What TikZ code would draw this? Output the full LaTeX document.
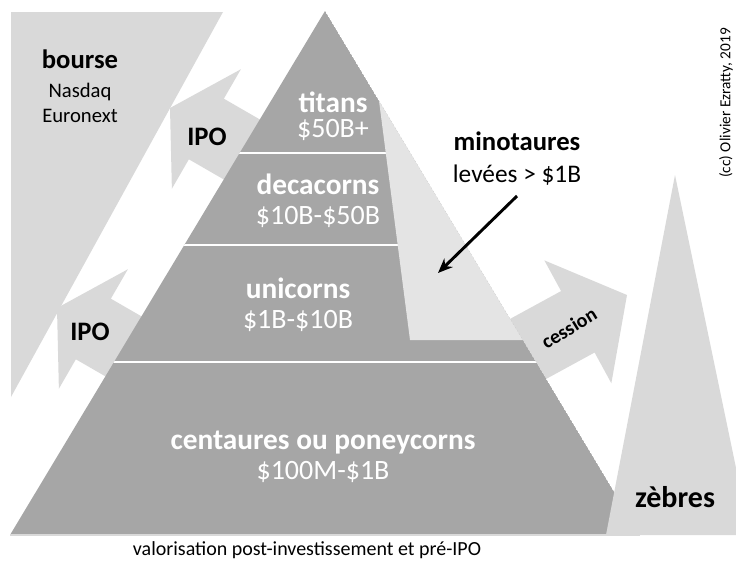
\documentclass[tikz,border=0pt]{standalone}
\usepackage{fontspec}
\setmainfont{Carlito}
\usepackage{xcolor}
\definecolor{pyramidGray}{HTML}{A6A6A6}
\definecolor{paleGray}{HTML}{D9D9D9}
\definecolor{minoGray}{HTML}{E4E4E4}
\usetikzlibrary{arrows.meta}
\tikzset{
    % light gray areas: bourse, block arrows, zebras
    pale area/.style={fill=paleGray},
    % names and values inside the pyramid
    tier name/.style={
        font=\bfseries\fontsize{22}{26}\selectfont,
        text=white, anchor=base, inner sep=0pt,
    },
    tier value/.style={
        font=\fontsize{21}{25}\selectfont,
        text=white, anchor=base, inner sep=0pt,
    },
    % black labels outside the pyramid
    side title/.style={
        font=\bfseries\fontsize{20}{24}\selectfont,
        anchor=base, inner sep=0pt,
    },
    side text/.style={
        font=\fontsize{15.5}{19}\selectfont,
        anchor=base, inner sep=0pt,
    },
    % separators between tiers
    tier line/.style={draw=white, line width=1.5pt},
    % arrow pointing at the minotaurs
    pointer/.style={
        -{Stealth[length=11pt, width=9pt]},
        line width=2.2pt,
    },
}

\begin{document}
\begin{tikzpicture}[x=0.75pt, y=-0.75pt]
    \useasboundingbox (0,0) rectangle (736,564);
    \clip (0,0) rectangle (736,564);

    % bourse
    \fill[pale area] (11,12) -- (223,12) -- (11,397) -- cycle;

    % block arrows (tip at origin, pointing left)
    \begin{scope}[shift={(170,108)}, rotate=-30]
        \fill[pale area] (0,0) -- (42,-69) -- (42,-35) -- (140,-35)
            -- (140,35) -- (42,35) -- (42,69) -- cycle;
    \end{scope}
    \begin{scope}[shift={(57,308)}, rotate=-30]
        \fill[pale area] (0,0) -- (42,-69) -- (42,-35) -- (140,-35)
            -- (140,35) -- (42,35) -- (42,69) -- cycle;
    \end{scope}
    \begin{scope}[shift={(627,295)}, rotate=-151.4]
        \fill[pale area] (0,0) -- (56,-70) -- (56,-35) -- (160,-35)
            -- (160,35) -- (56,35) -- (56,70) -- cycle;
    \end{scope}

    % pyramid
    \coordinate (apex) at (325,11);
    \coordinate (baseL) at (10,535);
    \coordinate (baseR) at (640,535);
    \begin{scope}
        \clip (apex) -- (baseR) -- (baseL) -- cycle;
        \fill[pyramidGray] (apex) -- (baseR) -- (baseL) -- cycle;
        \draw[tier line] (0,153) -- (736,153);
        \draw[tier line] (0,245) -- (736,245);
        \draw[tier line] (0,362) -- (736,362);
        \fill[minoGray] (378,93) -- (410,340) -- (600,340) -- (600,93) -- cycle;
    \end{scope}
    \draw[paleGray, line width=1pt] (baseL) -- (baseR);

    % zebras
    \fill[pale area] (675,175) -- (750,535) -- (606,535) -- cycle;

    % labels
    \node[side title] (bourse) at (80,68) {bourse};
    \node[side text] (nasdaq) at (80,97) {Nasdaq};
    \node[side text] (euronext) at (80,122) {Euronext};
    \node[side title] (ipoTop) at (207,145) {IPO};
    \node[side title] (ipoLow) at (90,340) {IPO};

    \node[tier name] (titans) at (333,112) {titans};
    \node[tier value] (titansVal) at (333,137) {\$50B+};
    \node[tier name] (decacorns) at (318,194) {decacorns};
    \node[tier value] (decacornsVal) at (318,224) {\$10B-\$50B};
    \node[tier name] (unicorns) at (298,298) {unicorns};
    \node[tier value] (unicornsVal) at (298,328) {\$1B-\$10B};
    \node[tier name] (centaures) at (323,449) {centaures ou poneycorns};
    \node[tier value] (centauresVal) at (323,479) {\$100M-\$1B};

    \node[side title] (minotaures) at (517,150) {minotaures};
    \node[side text, font=\fontsize{19}{23}\selectfont] (levees) at (517,182) {levées > \$1B};
    \coordinate (minoSpot) at (438,273);
    \draw[pointer] (517,196) -- (minoSpot);

    \node[font=\bfseries\fontsize{15}{18}\selectfont, rotate=31.5, inner sep=0pt]
        (cession) at (569,328) {cession};
    \node[side title, font=\bfseries\fontsize{22.5}{26}\selectfont] (zebres) at (675,507) {zèbres};

    \node[font=\fontsize{11.5}{14}\selectfont, rotate=90, inner sep=0pt]
        (credit) at (726,103) {(cc) Olivier Ezratty, 2019};
    \node[side text, font=\fontsize{15}{18}\selectfont] (axis) at (307,555)
        {valorisation post-investissement et pré-IPO};
\end{tikzpicture}
\end{document}
